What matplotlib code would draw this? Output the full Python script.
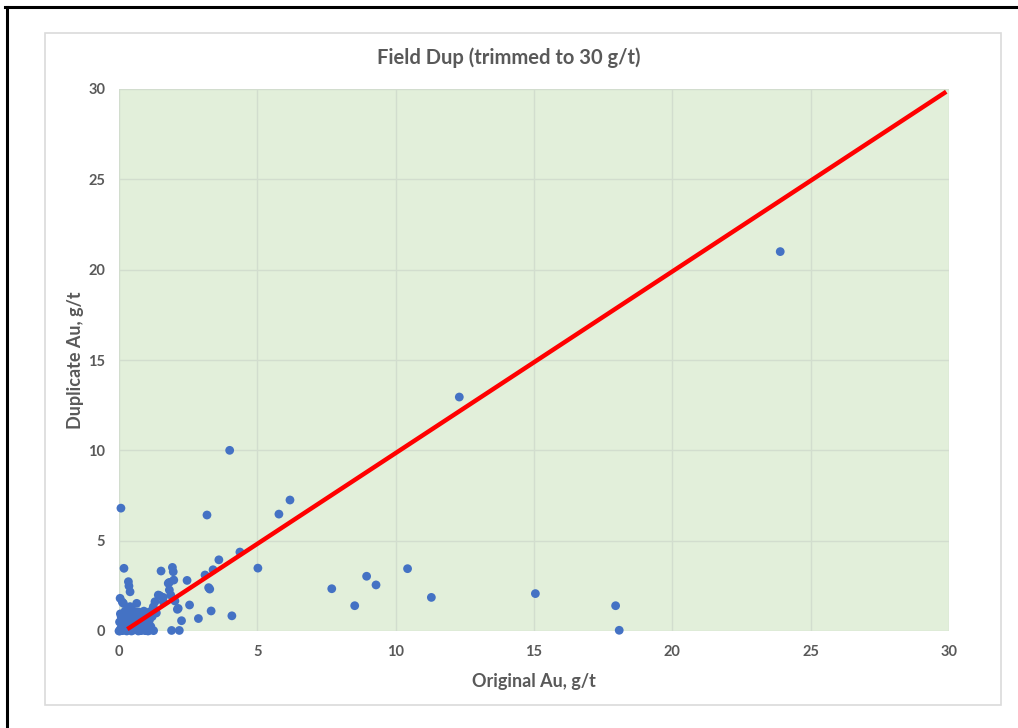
import matplotlib
matplotlib.use("Agg")
import matplotlib.pyplot as plt
from matplotlib.patches import Rectangle
from matplotlib.lines import Line2D

# Field duplicate pairs (g/t Au), trimmed to 30 g/t
original_au = [
    23.9, 12.3, 4.0, 0.07, 3.18, 5.78, 6.18, 4.37, 5.02, 3.61,
    3.40, 3.11, 3.24, 3.28, 3.33, 4.08, 2.46, 2.55, 2.87, 2.26,
    2.18, 1.90, 7.69, 8.52, 8.95, 9.29, 10.43, 11.29, 15.05, 17.95,
    18.08, 1.93, 1.96, 1.52, 1.98, 1.82, 1.82, 1.48, 1.60, 1.87,
    1.30, 2.02, 2.14, 1.24, 1.12, 1.00, 0.76, 0.88, 1.00, 1.12,
    0.18, 0.34, 0.36, 0.40, 0.04, 0.16, 0.64, 0.40, 1.78, 1.42,
    1.60, 2.11,
    0.00, 0.05, 0.10, 0.15, 0.20, 0.25, 0.30, 0.35, 0.40, 0.45,
    0.50, 0.55, 0.60, 0.65, 0.70, 0.75, 0.80, 0.85, 0.90, 0.95,
    1.05, 0.02, 0.08, 0.12, 0.22, 0.28, 0.32, 0.48, 0.52, 0.58,
    0.68, 0.72, 0.82, 0.92, 1.10, 1.20, 0.05, 0.18, 0.42, 0.62,
    0.78, 0.98, 1.15, 0.30, 0.15, 0.12, 1.25, 0.50, 1.35, 0.60,
    0.90, 0.03, 0.45, 0.70, 1.05, 0.25, 0.55, 0.85, 0.35, 0.65,
]
duplicate_au = [
    21.0, 12.95, 10.0, 6.8, 6.42, 6.47, 7.25, 4.37, 3.48, 3.94,
    3.39, 3.10, 2.40, 2.32, 1.11, 0.84, 2.80, 1.44, 0.69, 0.57,
    0.03, 0.03, 2.34, 1.40, 3.03, 2.55, 3.45, 1.86, 2.07, 1.40,
    0.04, 3.52, 3.28, 3.32, 2.82, 2.69, 2.27, 1.95, 1.86, 1.99,
    1.62, 1.66, 1.25, 1.34, 1.07, 0.89, 0.70, 0.61, 0.20, 0.05,
    3.47, 2.73, 2.49, 2.17, 1.81, 1.53, 1.53, 1.35, 2.64, 1.99,
    1.62, 1.20,
    0.00, 0.10, 0.30, 0.05, 0.60, 0.20, 0.90, 0.45, 0.10, 0.70,
    0.30, 1.00, 0.55, 0.15, 0.85, 0.40, 0.05, 0.25, 0.50, 0.02,
    0.35, 0.50, 0.80, 0.02, 1.10, 0.00, 0.60, 1.15, 0.05, 0.75,
    0.35, 1.05, 0.70, 0.20, 0.60, 0.80, 0.95, 0.95, 0.50, 0.90,
    0.02, 0.45, 0.25, 0.25, 0.70, 1.60, 0.02, 0.85, 1.00, 1.05,
    1.10, 0.00, 0.00, 0.00, 0.00, 0.40, 0.15, 0.05, 0.65, 0.30,
]

# 1:1 reference line
ref_x = [0.3, 29.9]
ref_y = [0.1, 29.85]

x_ticks = [0, 5, 10, 15, 20, 25, 30]
y_ticks = [0, 5, 10, 15, 20, 25, 30]

FONT = "Lato"
TEXT_GREY = "#595959"

fig = plt.figure(figsize=(10.18, 7.28), dpi=100)
fig.patch.set_facecolor("white")

W, H = 1018, 728

# page frame (top and left rules) and chart-area border
fig.add_artist(Line2D([5 / W, 1.0], [1 - 7 / H, 1 - 7 / H], color="black", lw=2.2,
                      transform=fig.transFigure))
fig.add_artist(Line2D([7 / W, 7 / W], [0.0, 1 - 7 / H], color="black", lw=2.2,
                      transform=fig.transFigure))
fig.add_artist(Rectangle((45 / W, 1 - 705 / H), (1001 - 45) / W, (705 - 33) / H,
                         transform=fig.transFigure, fill=False,
                         edgecolor="#DADADA", lw=1.2))

ax = fig.add_axes([119 / W, 1 - 631 / H, (949 - 119) / W, (631 - 89) / H])
ax.set_facecolor("#E2EFDA")
ax.set_xlim(0, 30)
ax.set_ylim(0, 30)
ax.set_xticks(x_ticks)
ax.set_yticks(y_ticks)
ax.grid(True, color="#D2DDCE", lw=1.0)
ax.set_axisbelow(True)
for s in ax.spines.values():
    s.set_visible(False)
ax.tick_params(length=0, pad=10, labelsize=10.5, labelcolor=TEXT_GREY)
for lab in ax.get_xticklabels() + ax.get_yticklabels():
    lab.set_fontfamily(FONT)
    lab.set_fontweight("bold")

ax.scatter(original_au, duplicate_au, s=40, color="#4472C4", zorder=3,
           edgecolors="none", clip_on=False)
ax.plot(ref_x, ref_y, color="#FF0000", lw=3.2, zorder=4, solid_capstyle="butt")

fig.text(509 / W, 1 - 58 / H, "Field Dup (trimmed to 30 g/t)", fontsize=14.5,
         color=TEXT_GREY, family=FONT, fontweight="bold", ha="center", va="center")
ax.set_xlabel("Original Au, g/t", fontsize=13, color=TEXT_GREY, family=FONT,
              fontweight="bold", labelpad=10)
ax.set_ylabel("Duplicate Au, g/t", fontsize=13, color=TEXT_GREY, family=FONT,
              fontweight="bold", labelpad=3)

fig.savefig("out.png", dpi=100)
